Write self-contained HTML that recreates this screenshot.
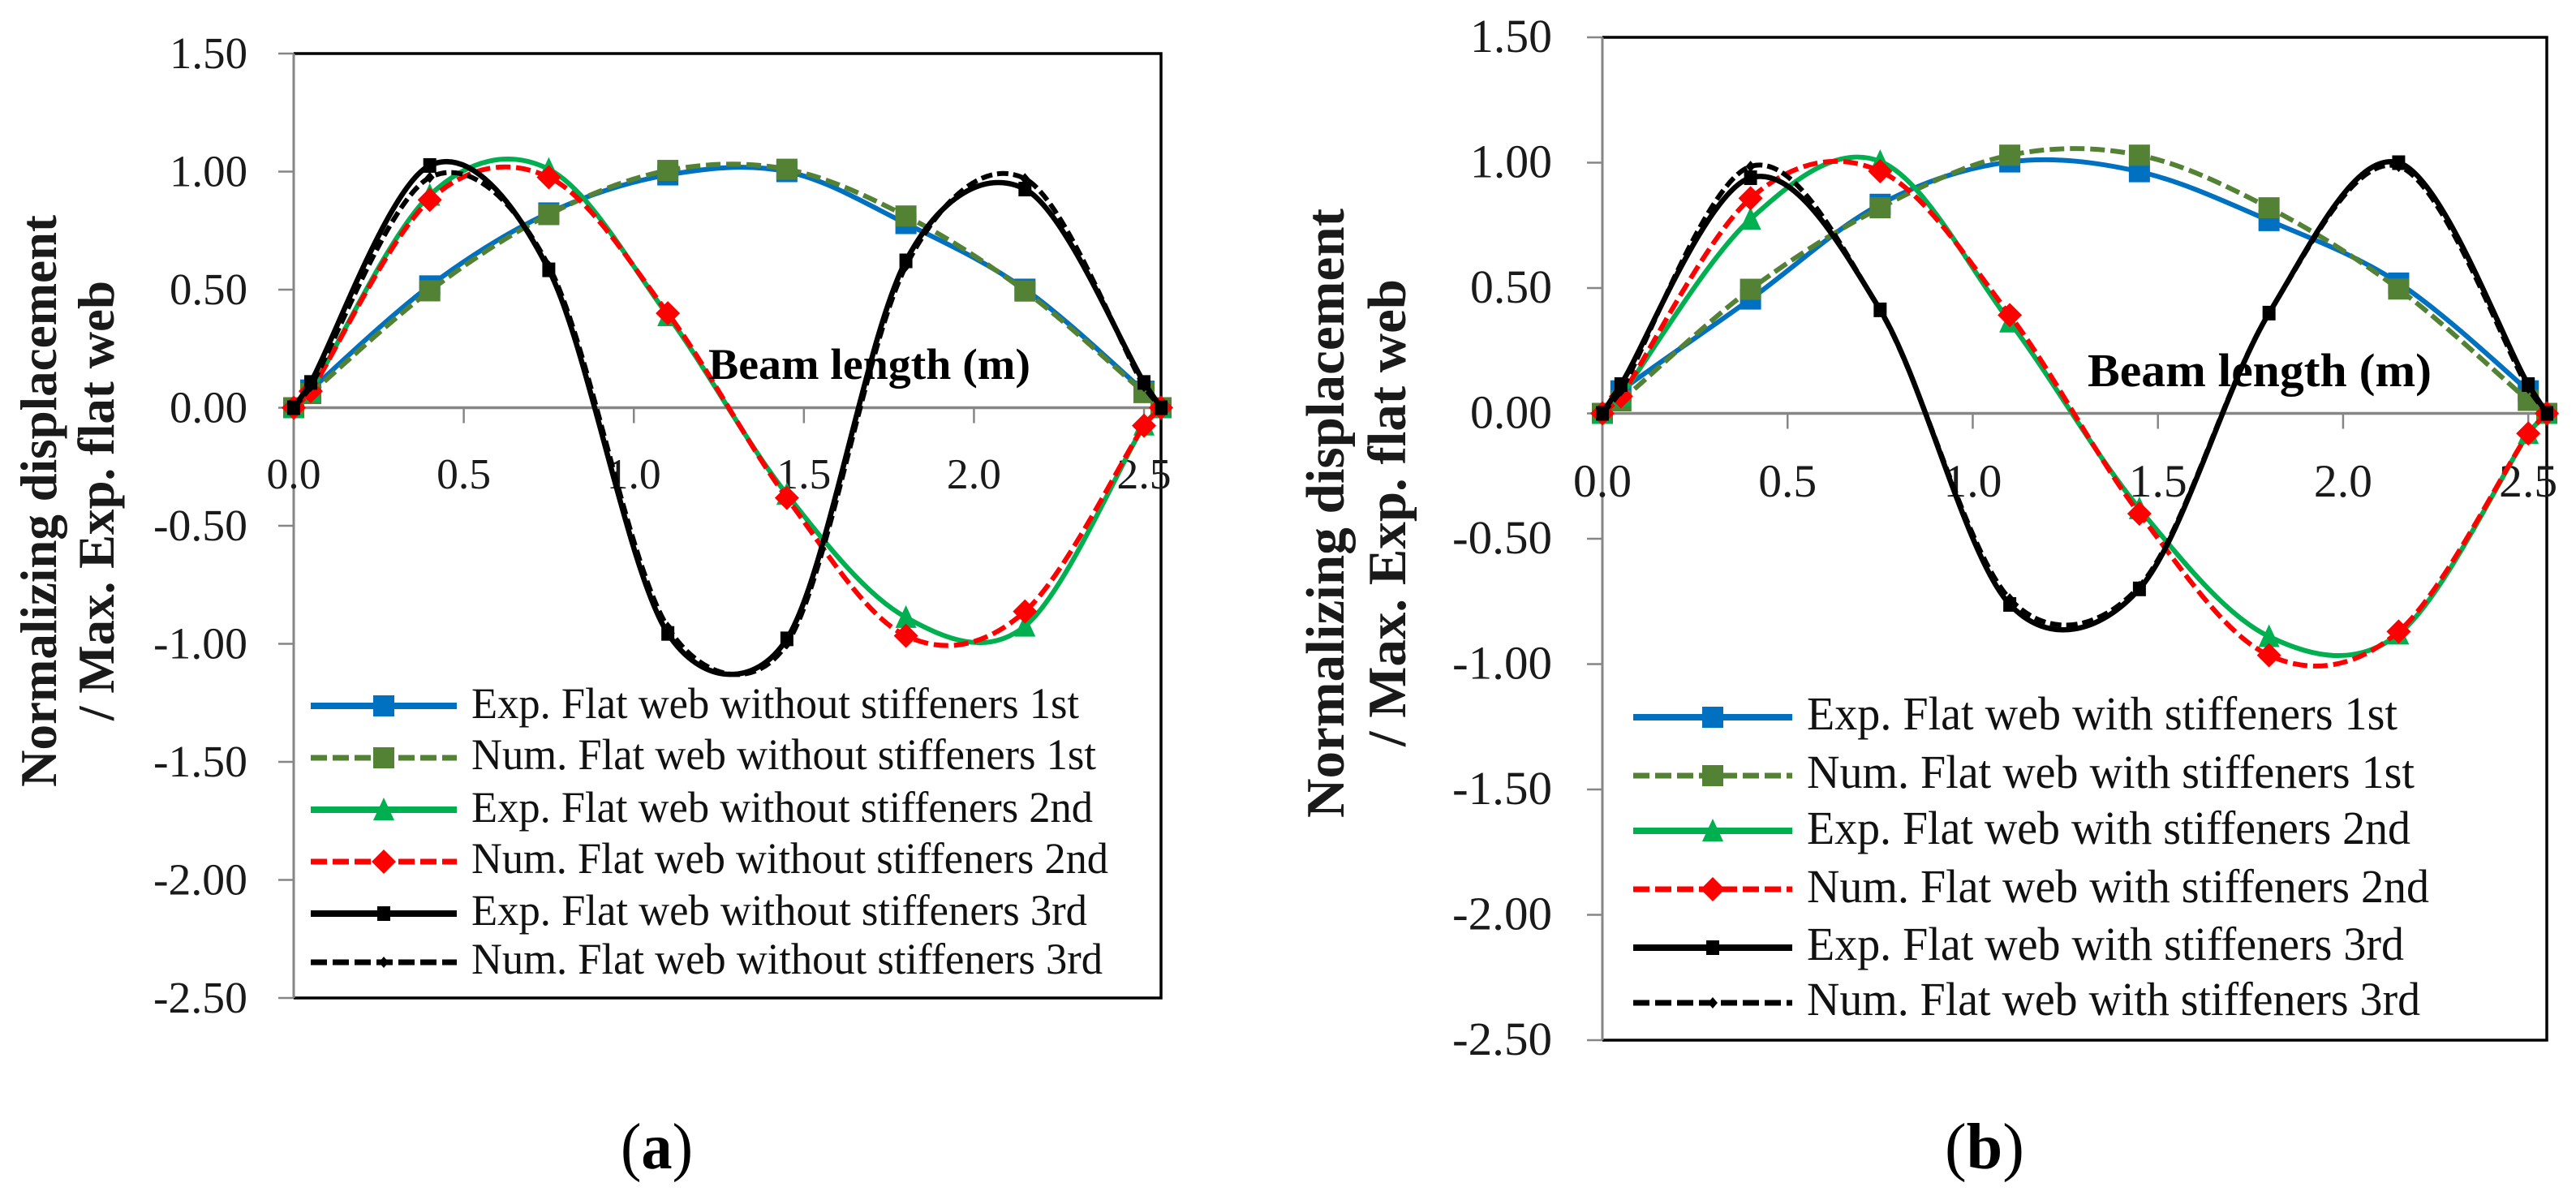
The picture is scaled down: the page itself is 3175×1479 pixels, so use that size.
<!DOCTYPE html>
<html>
<head>
<meta charset="utf-8">
<title>Normalized displacement charts</title>
<style>
html,body{margin:0;padding:0;background:#fff;}
svg{display:block;}
.serif{font-family:"Liberation Serif",serif;}
.bold{font-weight:bold;}
</style>
</head>
<body>
<svg id="figure" xmlns="http://www.w3.org/2000/svg" width="3175" height="1479" viewBox="0 0 3175 1479">
  <rect width="3175" height="1479" fill="#fff"/>
  <g id="chart-a"></g>
  <g id="chart-b"></g>

  <text class="serif bold" font-size="63" fill="#1a1a1a" transform="rotate(-90 69 970)" x="69" y="970" textLength="705" lengthAdjust="spacingAndGlyphs">Normalizing displacement</text>
  <text class="serif bold" font-size="63" fill="#1a1a1a" transform="rotate(-90 140 888)" x="140" y="888" textLength="542" lengthAdjust="spacingAndGlyphs">/ Max. Exp. flat web</text>
  <text class="serif bold" font-size="54" fill="#000" x="873" y="467" textLength="397" lengthAdjust="spacingAndGlyphs">Beam length (m)</text>

  <g class="serif" font-size="54" fill="#111">
    <text x="581" y="885" textLength="749" lengthAdjust="spacingAndGlyphs">Exp. Flat web without stiffeners 1st</text>
    <text x="581" y="948" textLength="770" lengthAdjust="spacingAndGlyphs">Num. Flat web without stiffeners 1st</text>
    <text x="581" y="1013" textLength="766" lengthAdjust="spacingAndGlyphs">Exp. Flat web without stiffeners 2nd</text>
    <text x="581" y="1076" textLength="785" lengthAdjust="spacingAndGlyphs">Num. Flat web without stiffeners 2nd</text>
    <text x="581" y="1140" textLength="759" lengthAdjust="spacingAndGlyphs">Exp. Flat web without stiffeners 3rd</text>
    <text x="581" y="1200" textLength="778" lengthAdjust="spacingAndGlyphs">Num. Flat web without stiffeners 3rd</text>
  </g>
  <text class="serif" font-size="80" fill="#000" x="765" y="1440" textLength="89" lengthAdjust="spacingAndGlyphs">(<tspan font-weight="bold">a</tspan>)</text>

  <text class="serif bold" font-size="67" fill="#1a1a1a" transform="rotate(-90 1656 1008)" x="1656" y="1008" textLength="751" lengthAdjust="spacingAndGlyphs">Normalizing displacement</text>
  <text class="serif bold" font-size="67" fill="#1a1a1a" transform="rotate(-90 1732 920)" x="1732" y="920" textLength="576" lengthAdjust="spacingAndGlyphs">/ Max. Exp. flat web</text>
  <text class="serif bold" font-size="58" fill="#000" x="2573" y="476" textLength="424" lengthAdjust="spacingAndGlyphs">Beam length (m)</text>

  <g class="serif" font-size="58" fill="#111">
    <text x="2227" y="899" textLength="728" lengthAdjust="spacingAndGlyphs">Exp. Flat web with stiffeners 1st</text>
    <text x="2227" y="971" textLength="749" lengthAdjust="spacingAndGlyphs">Num. Flat web with stiffeners 1st</text>
    <text x="2227" y="1040" textLength="744" lengthAdjust="spacingAndGlyphs">Exp. Flat web with stiffeners 2nd</text>
    <text x="2227" y="1112" textLength="767" lengthAdjust="spacingAndGlyphs">Num. Flat web with stiffeners 2nd</text>
    <text x="2227" y="1183" textLength="736" lengthAdjust="spacingAndGlyphs">Exp. Flat web with stiffeners 3rd</text>
    <text x="2227" y="1251" textLength="756" lengthAdjust="spacingAndGlyphs">Num. Flat web with stiffeners 3rd</text>
  </g>
  <text class="serif" font-size="80" fill="#000" x="2397" y="1440" textLength="98" lengthAdjust="spacingAndGlyphs">(<tspan font-weight="bold">b</tspan>)</text>
</svg>

<script>
// ---- shared axis data ----
const beamPositions = [0, 0.05, 0.4, 0.75, 1.1, 1.45, 1.8, 2.15, 2.5, 2.55];
const yTickValues = [1.5, 1, 0.5, 0, -0.5, -1, -1.5, -2, -2.5];
const yTickLabels = ['1.50', '1.00', '0.50', '0.00', '-0.50', '-1.00', '-1.50', '-2.00', '-2.50'];
const xTickValues = [0, 0.5, 1, 1.5, 2, 2.5];
const xTickLabels = ['0.0', '0.5', '1.0', '1.5', '2.0', '2.5'];

// ---- chart (a): flat web without stiffeners ----
const aExp1st = [0, 0.075, 0.516, 0.825, 0.986, 1.00, 0.78, 0.502, 0.07, 0];
const aNum1st = [0, 0.06, 0.495, 0.818, 1.005, 1.01, 0.812, 0.494, 0.064, 0];
const aExp2nd = [0, 0.07, 0.90, 1.01, 0.39, -0.367, -0.888, -0.925, -0.073, 0];
const aNum2nd = [0, 0.07, 0.88, 0.976, 0.40, -0.382, -0.966, -0.863, -0.076, 0];
const aExp3rd = [0, 0.107, 1.026, 0.584, -0.956, -0.979, 0.622, 0.926, 0.107, 0];
const aNum3rd = [0, 0.09, 0.975, 0.60, -0.93, -1.0, 0.60, 0.97, 0.09, 0];

// ---- chart (b): flat web with stiffeners ----
const bExp1st = [0, 0.09, 0.456, 0.834, 1.003, 0.964, 0.769, 0.52, 0.09, 0];
const bNum1st = [0, 0.05, 0.495, 0.82, 1.03, 1.03, 0.82, 0.496, 0.052, 0];
const bExp2nd = [0, 0.07, 0.775, 1.005, 0.365, -0.38, -0.89, -0.88, -0.08, 0];
const bNum2nd = [0, 0.068, 0.858, 0.966, 0.392, -0.40, -0.965, -0.87, -0.08, 0];
const bExp3rd = [0, 0.115, 0.94, 0.413, -0.762, -0.70, 0.40, 1.0, 0.115, 0];
const bNum3rd = [0, 0.09, 0.985, 0.41, -0.74, -0.69, 0.40, 0.985, 0.10, 0];

const NS = 'http://www.w3.org/2000/svg';

function make(tag, attrs, parent) {
  const node = document.createElementNS(NS, tag);
  for (const k in attrs) node.setAttribute(k, attrs[k]);
  parent.appendChild(node);
  return node;
}

// Excel-like smoothing weight: 1/6 for even spacing, reduced next to a much longer chord.
function handleWeight(seg, other) {
  if (other === 0) return 1 / 6;
  if (seg < 0.2 * other) return 0.3 * seg / (seg + other);
  const a = Math.sqrt(seg), b = Math.sqrt(other);
  return Math.min(1 / 6, 0.385 * a / (a + b));
}

function smoothPath(pts) {
  const dist = (p, q) => Math.hypot(q[0] - p[0], q[1] - p[1]);
  let d = 'M' + pts[0][0].toFixed(2) + ' ' + pts[0][1].toFixed(2);
  for (let i = 0; i < pts.length - 1; i++) {
    const p0 = pts[Math.max(0, i - 1)], p1 = pts[i], p2 = pts[i + 1], p3 = pts[Math.min(pts.length - 1, i + 2)];
    const d12 = dist(p1, p2);
    const w1 = handleWeight(d12, dist(p0, p1));
    const w2 = handleWeight(d12, dist(p2, p3));
    const c1 = [p1[0] + (p2[0] - p0[0]) * w1, p1[1] + (p2[1] - p0[1]) * w1];
    const c2 = [p2[0] - (p3[0] - p1[0]) * w2, p2[1] - (p3[1] - p1[1]) * w2];
    d += 'C' + c1[0].toFixed(2) + ' ' + c1[1].toFixed(2) + ' ' + c2[0].toFixed(2) + ' ' + c2[1].toFixed(2) + ' ' + p2[0].toFixed(2) + ' ' + p2[1].toFixed(2);
  }
  return d;
}

function drawMarker(shape, cx, cy, color, parent) {
  if (shape === 'square') {
    return make('rect', {x: cx - 13, y: cy - 13, width: 26, height: 26, fill: color}, parent);
  }
  if (shape === 'smallsquare') {
    return make('rect', {x: cx - 8, y: cy - 9, width: 16, height: 18, fill: color}, parent);
  }
  if (shape === 'triangle') {
    return make('polygon', {points: (cx) + ',' + (cy - 15) + ' ' + (cx + 13) + ',' + (cy + 13) + ' ' + (cx - 13) + ',' + (cy + 13), fill: color}, parent);
  }
  if (shape === 'diamond') {
    return make('polygon', {points: (cx) + ',' + (cy - 15) + ' ' + (cx + 15) + ',' + (cy) + ' ' + (cx) + ',' + (cy + 15) + ' ' + (cx - 15) + ',' + (cy), fill: color}, parent);
  }
  return make('polygon', {points: (cx) + ',' + (cy - 7) + ' ' + (cx + 6) + ',' + (cy) + ' ' + (cx) + ',' + (cy + 7) + ' ' + (cx - 6) + ',' + (cy), fill: color}, parent);
}

function drawPanel(cfg) {
  const root = document.getElementById(cfg.id);
  const xScale = v => cfg.left + (v / 2.55) * (cfg.right - cfg.left);
  const yScale = v => cfg.top + ((1.5 - v) / 4) * (cfg.bottom - cfg.top);

  // plot frame
  const frame = make('path', {d: 'M' + cfg.left + ' ' + cfg.top + 'H' + cfg.right + 'V' + cfg.bottom + 'H' + cfg.left, fill: 'none', stroke: '#000', 'stroke-width': 3.5}, root);
  
  

  const yAxis = make('line', {x1: cfg.left, y1: cfg.top, x2: cfg.left, y2: cfg.bottom, stroke: '#868686', 'stroke-width': 3}, root);
  
  

  const xAxis = make('line', {x1: cfg.left, y1: yScale(0), x2: cfg.right, y2: yScale(0), stroke: '#868686', 'stroke-width': 3.5}, root);
  
  

  yTickValues.forEach((v, i) => {
    const y = yScale(v);
    const tick = make('line', {x1: cfg.left - 19, y1: y, x2: cfg.left, y2: y, stroke: '#868686', 'stroke-width': 2.5}, root);
    
    
    const label = yTickLabels[i];
    const w = label.length === 5 ? cfg.yNegWidth : cfg.yPosWidth;
    const t = make('text', {x: cfg.yLabelRight - w, y: y + 18, 'font-family': '"Liberation Serif", serif', 'font-size': cfg.yFont, fill: '#1a1a1a', textLength: w, lengthAdjust: 'spacingAndGlyphs'}, root);
    t.textContent = label;
    
    
  });

  xTickValues.forEach((v, i) => {
    const x = xScale(v);
    const tick = make('line', {x1: x, y1: yScale(0), x2: x, y2: yScale(0) + 19, stroke: '#868686', 'stroke-width': 2.5}, root);
    
    
    const t = make('text', {x: x - cfg.xLabelW / 2, y: cfg.xLabelY, 'font-family': '"Liberation Serif", serif', 'font-size': cfg.xFont, fill: '#1a1a1a', textLength: cfg.xLabelW, lengthAdjust: 'spacingAndGlyphs'}, root);
    t.textContent = xTickLabels[i];
    
    
  });

  // series
  cfg.series.forEach(s => {
    const g = make('g', {}, root);
    
    
    const pts = s.values.map((v, i) => [xScale(beamPositions[i]), yScale(v)]);
    const line = make('path', {d: smoothPath(pts), fill: 'none', stroke: s.color, 'stroke-width': s.width, 'stroke-dasharray': s.dash || 'none'}, g);
    
    
    pts.forEach(p => {
      const m = drawMarker(s.marker, p[0], p[1], s.color, g);
      
      
    });
  });

  // legend swatches
  cfg.series.forEach((s, i) => {
    const y = cfg.legendY[i];
    const g = make('g', {}, root);
    
    
    const l = make('line', {x1: cfg.legendX1, y1: y, x2: cfg.legendX2, y2: y, stroke: s.color, 'stroke-width': s.dash ? 7 : 8, 'stroke-dasharray': s.dash ? '20 7' : 'none'}, g);
    
    
    const m = drawMarker(s.marker, (cfg.legendX1 + cfg.legendX2) / 2, y, s.color, g);
    
    
  });
}

function seriesFor(e1, n1, e2, n2, e3, n3) {
  return [
    {key: 'exp-1st', values: e1, color: '#0070C0', width: 6, marker: 'square'},
    {key: 'num-1st', values: n1, color: '#548235', width: 6, dash: '18 7', marker: 'square'},
    {key: 'exp-2nd', values: e2, color: '#00B050', width: 6, marker: 'triangle'},
    {key: 'num-2nd', values: n2, color: '#FF0000', width: 6, dash: '18 7', marker: 'diamond'},
    {key: 'exp-3rd', values: e3, color: '#000000', width: 6.5, marker: 'smallsquare'},
    {key: 'num-3rd', values: n3, color: '#000000', width: 6, dash: '14 6', marker: 'tiny'}
  ];
}

drawPanel({
  id: 'chart-a', left: 362, right: 1431, top: 66, bottom: 1230,
  yLabelRight: 305, yPosWidth: 96, yNegWidth: 116, yFont: 55,
  xLabelW: 67, xLabelY: 602, xFont: 53,
  legendX1: 383, legendX2: 563, legendY: [870, 934, 998, 1062, 1126, 1186],
  series: seriesFor(aExp1st, aNum1st, aExp2nd, aNum2nd, aExp3rd, aNum3rd)
});

drawPanel({
  id: 'chart-b', left: 1975, right: 3139, top: 46, bottom: 1282,
  yLabelRight: 1913, yPosWidth: 101, yNegWidth: 123, yFont: 58,
  xLabelW: 72, xLabelY: 612, xFont: 57,
  legendX1: 2013, legendX2: 2209, legendY: [884, 956, 1024, 1096, 1168, 1236],
  series: seriesFor(bExp1st, bNum1st, bExp2nd, bNum2nd, bExp3rd, bNum3rd)
});
</script>
</body>
</html>
